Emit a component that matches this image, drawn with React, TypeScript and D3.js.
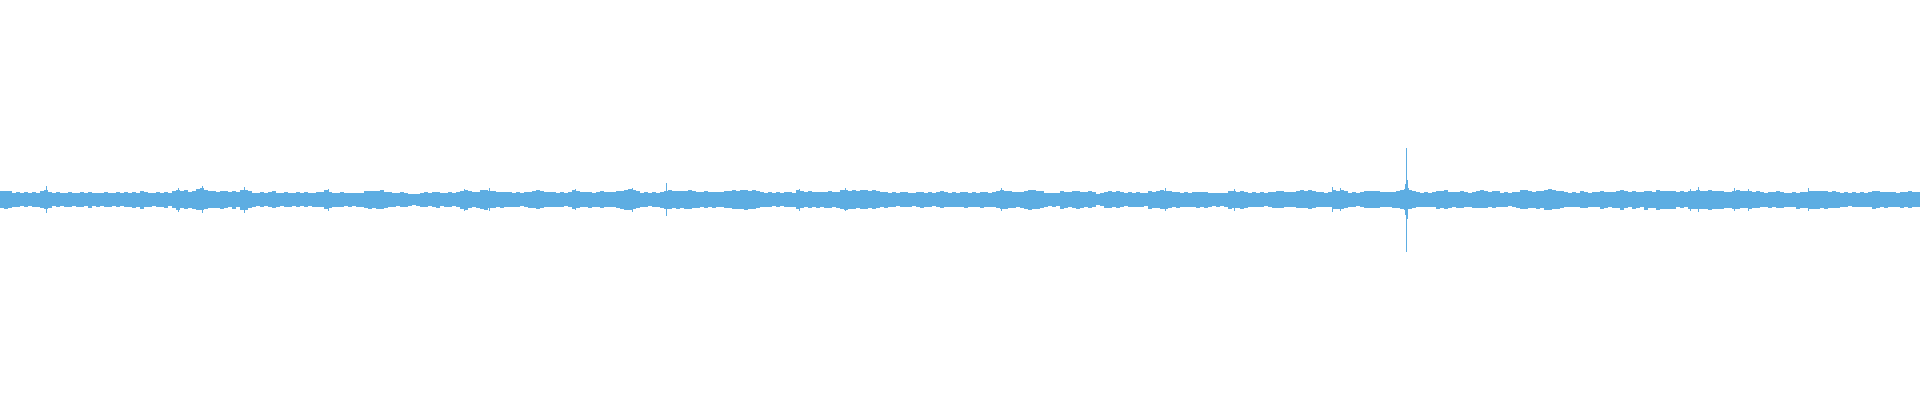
import React from 'react';
import * as d3 from 'd3';

// waveform peaks, one value per 4-frame bin, in thousandths of full scale
const peakHi = [
  45, 47, 44, 36, 40, 34, 38, 35, 41, 36, 44, 48, 42, 35, 39, 34, 37, 40, 33, 36, 38, 34, 41, 35, 37, 33, 39, 36, 34, 40, 35, 38, 36, 42, 37, 46, 40, 36, 34, 38,
  37, 41, 35, 46, 52, 44, 48, 42, 47, 55, 58, 50, 46, 44, 41, 47, 43, 40, 45, 38, 50, 52, 46, 36, 33, 38, 35, 40, 43, 37, 34, 39, 36, 33, 38, 35, 40, 34, 37, 39,
  40, 48, 42, 37, 35, 38, 34, 36, 33, 37, 35, 44, 47, 43, 46, 48, 42, 40, 37, 34, 38, 35, 32, 29, 31, 36, 39, 34, 38, 41, 35, 37, 40, 34, 38, 46, 50, 43, 38, 41,
  48, 52, 47, 43, 39, 42, 38, 41, 37, 40, 36, 39, 42, 46, 50, 47, 41, 38, 41, 37, 40, 36, 39, 48, 44, 40, 38, 42, 37, 40, 43, 38, 41, 39, 44, 47, 52, 55, 49, 45,
  37, 40, 35, 38, 36, 42, 45, 48, 44, 47, 43, 46, 50, 45, 42, 40, 43, 39, 42, 38, 41, 46, 43, 48, 45, 50, 52, 47, 49, 44, 40, 37, 40, 36, 39, 35, 38, 41, 37, 48,
  45, 40, 43, 39, 42, 38, 41, 44, 39, 42, 48, 52, 47, 49, 46, 50, 48, 44, 49, 45, 38, 41, 36, 39, 35, 38, 40, 36, 33, 39, 42, 37, 40, 35, 38, 44, 41, 37, 40, 36,
  38, 41, 36, 40, 37, 42, 39, 36, 41, 44, 48, 47, 43, 41, 38, 42, 46, 50, 48, 46, 43, 37, 34, 37, 35, 46, 42, 39, 44, 47, 42, 40, 43, 39, 31, 34, 41, 44, 40, 43,
  38, 35, 39, 36, 40, 37, 34, 46, 42, 44, 48, 46, 43, 38, 41, 37, 40, 36, 39, 42, 38, 41, 37, 34, 36, 33, 37, 45, 43, 40, 46, 42, 37, 40, 36, 39, 35, 38, 41, 43,
  44, 41, 38, 40, 45, 48, 46, 49, 44, 38, 41, 37, 40, 48, 46, 50, 43, 36, 39, 35, 38, 44, 46, 43, 45, 42, 39, 41, 38, 47, 50, 55, 52, 45, 40, 37, 39, 36, 40, 46,
  44, 48, 42, 39, 41, 45, 40, 37, 41, 44, 48, 43, 40, 45, 43, 37, 40, 36, 39, 42, 48, 50, 44, 42, 47, 45, 50, 55, 52, 47, 45, 38, 36, 39, 37, 45, 42, 37, 40, 38,
  45, 42, 38, 41, 44, 48, 43, 40, 46, 42, 39, 47, 43, 41, 50, 47, 45, 46, 47, 40, 43, 39, 46, 44, 48, 47, 46, 48, 45, 44, 45, 41, 40, 47, 48, 44, 43, 47, 42, 44,
  40, 37, 41, 38, 47, 42, 37, 36, 39, 35, 38, 41, 46, 44, 45, 43, 46, 42, 44, 40, 36, 39, 35, 38, 36, 40, 37, 39, 47, 44, 40, 42, 38, 41, 37, 42, 39, 43, 38, 40,
];

const peakLo = [
  42, 45, 40, 33, 36, 31, 35, 32, 37, 33, 42, 46, 38, 32, 35, 30, 34, 37, 31, 33, 35, 31, 38, 32, 34, 30, 36, 33, 31, 37, 32, 35, 33, 39, 34, 44, 37, 33, 31, 35,
  34, 38, 32, 42, 48, 40, 45, 38, 44, 52, 50, 46, 42, 40, 38, 44, 40, 37, 47, 36, 48, 50, 42, 33, 31, 35, 32, 37, 40, 34, 31, 36, 33, 30, 35, 32, 37, 31, 34, 36,
  37, 46, 40, 34, 33, 35, 31, 34, 30, 35, 33, 41, 45, 40, 44, 46, 39, 37, 34, 31, 35, 33, 28, 24, 29, 33, 36, 31, 35, 38, 32, 34, 37, 31, 35, 44, 48, 40, 35, 38,
  44, 48, 42, 38, 35, 38, 34, 37, 33, 36, 32, 35, 38, 42, 44, 40, 36, 34, 37, 33, 36, 32, 35, 46, 40, 36, 34, 38, 33, 36, 39, 34, 37, 35, 40, 44, 48, 52, 45, 41,
  33, 36, 31, 35, 33, 40, 44, 46, 42, 45, 40, 43, 44, 41, 38, 37, 40, 35, 38, 34, 37, 42, 40, 46, 44, 47, 48, 44, 45, 40, 36, 33, 36, 32, 35, 31, 34, 37, 33, 46,
  42, 37, 40, 35, 39, 34, 38, 40, 36, 38, 46, 48, 44, 45, 42, 46, 44, 40, 44, 41, 35, 38, 33, 36, 32, 35, 37, 33, 30, 36, 40, 34, 37, 32, 35, 39, 37, 34, 36, 33,
  35, 38, 33, 37, 34, 38, 36, 33, 37, 42, 47, 45, 40, 38, 35, 39, 44, 48, 46, 44, 40, 34, 31, 34, 32, 44, 39, 36, 40, 44, 39, 37, 40, 36, 26, 30, 38, 41, 37, 40,
  34, 32, 36, 33, 37, 34, 31, 44, 40, 42, 46, 43, 40, 35, 38, 34, 37, 33, 36, 39, 35, 38, 34, 31, 33, 30, 34, 44, 42, 38, 44, 40, 34, 37, 33, 36, 32, 35, 38, 40,
  38, 35, 33, 36, 39, 42, 40, 43, 38, 34, 37, 33, 36, 45, 44, 46, 40, 33, 36, 32, 35, 39, 41, 38, 40, 37, 35, 37, 40, 42, 44, 50, 46, 40, 36, 33, 35, 33, 37, 45,
  42, 46, 40, 36, 38, 40, 37, 34, 38, 40, 42, 39, 36, 38, 36, 33, 36, 32, 35, 38, 46, 47, 42, 40, 44, 42, 48, 50, 46, 44, 42, 34, 33, 36, 33, 42, 39, 34, 37, 35,
  43, 40, 35, 38, 42, 48, 40, 37, 44, 40, 36, 48, 41, 38, 48, 44, 43, 44, 43, 37, 40, 36, 45, 43, 45, 44, 46, 48, 45, 46, 43, 38, 38, 46, 47, 42, 40, 45, 38, 40,
  37, 34, 38, 35, 40, 38, 34, 33, 36, 44, 38, 40, 44, 43, 44, 42, 44, 40, 42, 38, 33, 36, 32, 35, 34, 37, 34, 36, 43, 40, 37, 38, 35, 37, 34, 38, 36, 39, 35, 37,
];

// single-frame transients
const transientFrame = [46, 178, 202, 244, 328, 464, 489, 575, 632, 666, 799, 845, 1001, 1165, 1234, 1332, 1340, 1405, 1406, 1407, 1408, 1690, 1698, 1734, 1748, 1808];
const transientHi = [70, 60, 70, 65, 55, 55, 60, 55, 60, 85, 57, 60, 60, 60, 55, 65, 62, 82, 260, 100, 58, 55, 65, 60, 55, 60];
const transientLo = [63, 58, 63, 63, 53, 53, 53, 50, 58, 78, 53, 53, 53, 53, 53, 58, 53, 73, 260, 95, 47, 53, 60, 53, 53, 53];

const FRAMES_PER_BIN = 4;
const COLOR = '#5dade2';

const App = () => {
  const width = 1920;
  const height = 400;
  const totalFrames = peakHi.length * FRAMES_PER_BIN;

  const x = d3.scaleLinear().domain([0, totalFrames]).range([0, width]);
  const y = d3.scaleLinear().domain([-1000, 1000]).range([height, 0]);

  return (
    <>
      <style>{'body{margin:0;overflow:hidden}'}</style>
      <svg width={width} height={height} style={{ display: 'block', background: '#fff' }} shapeRendering="crispEdges">
        <g fill={COLOR}>
          {peakHi.map((hi, i) => {
            const x0 = x(i * FRAMES_PER_BIN);
            const x1 = x((i + 1) * FRAMES_PER_BIN);
            return (
              <rect key={'b' + i} x={x0} width={x1 - x0} y={y(hi)} height={y(-peakLo[i]) - y(hi)} />
            );
          })}
          {transientFrame.map((f, i) => (
            <rect key={'t' + i} x={x(f)} width={x(f + 1) - x(f)} y={y(transientHi[i])} height={y(-transientLo[i]) - y(transientHi[i])} />
          ))}
        </g>
      </svg>
    </>
  );
};

export default App;
